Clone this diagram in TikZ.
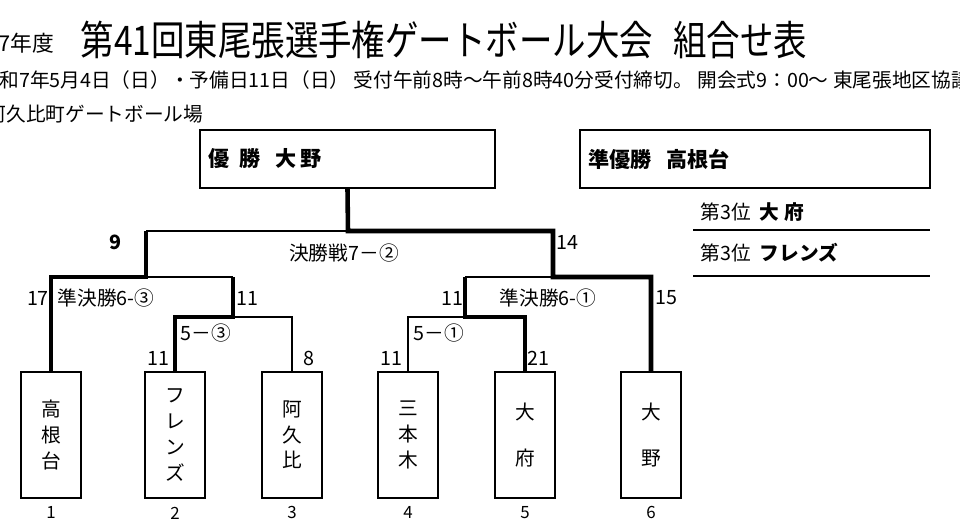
\documentclass[tikz,border=0pt]{standalone}
\usepackage{fontspec}
\setmainfont{Noto Sans CJK JP}
\tikzset{
  thin line/.style={line width=0.45pt},
  win line/.style={line width=1.3pt},
  team/.style={draw,line width=0.5pt,minimum width=0.6cm,minimum height=1.26cm,inner sep=0pt,align=center,font=\fontsize{5.6pt}{7.3pt}\selectfont},
  score/.style={font=\fontsize{5.6pt}{6pt}\selectfont,inner sep=0pt},
  info/.style={font=\fontsize{5.6pt}{6pt}\selectfont,inner sep=0pt,anchor=west},
}
\begin{document}
\begin{tikzpicture}[x=0.01cm,y=-0.01cm]
\useasboundingbox (0,0) rectangle (960,519);
\clip (0,0) rectangle (960,519);
% header
\node[info,font=\fontsize{6.2pt}{7pt}\selectfont] (year) at (-46,43) {令和7年度};
\node[inner sep=0pt,anchor=west,font=\fontsize{11.6pt}{13pt}\selectfont] (title) at (80,40) {\scalebox{0.82}[1]{第41回東尾張選手権ゲートボール大会\hspace{0.6em}組合せ表}};
\node[info] (date) at (-21,80) {令和7年5月4日（日）・予備日11日（日）\ 受付午前8時～午前8時40分受付締切。 開会式9：00～\ 東尾張地区協議会};
\node[info] (place) at (-14,114) {阿久比町ゲートボール場};
% results
\node[draw,line width=0.6pt,minimum width=2.95cm,minimum height=0.58cm,inner sep=0pt] (champ) at (347.5,159) {};
\node[info,font=\bfseries\fontsize{6pt}{6pt}\selectfont] at (208,159) {優\ \ 勝\ \ \ 大\ 野};
\node[draw,line width=0.6pt,minimum width=3.5cm,minimum height=0.58cm,inner sep=0pt] (second) at (755,159) {};
\node[info,font=\bfseries\fontsize{6pt}{6pt}\selectfont] at (588,159) {準優勝\ \ \ 高根台};
\node[info] (third1) at (700,212) {第3位\ \ \textbf{大 府}};
\draw[thin line] (693,230) -- (930,230);
\node[info] (third2) at (700,253) {第3位\ \ \textbf{フレンズ}};
\draw[thin line] (693,276) -- (930,276);
% teams
\node[team] (t1) at (51,435) {高\\根\\台};
\node[team] (t2) at (175,435) {フ\\レ\\ン\\ズ};
\node[team] (t3) at (292,435) {阿\\久\\比};
\node[team] (t4) at (408,435) {三\\本\\木};
\node[team] (t5) at (525,435) {大\\[6pt]府};
\node[team] (t6) at (651,435) {大\\[6pt]野};
\foreach \i in {1,...,6} \node[score,font=\fontsize{4.8pt}{5pt}\selectfont] at ([yshift=-0.14cm]t\i.south) {\i};
% bracket
\draw[thin line] (t3.north) -- (292,317) -- (233,317);
\draw[win line] (t2.north) -- (175,317) -- (233,317) -- (233,277);
\draw[thin line] (233,277) -- (146,277);
\draw[win line] (t1.north) -- (51,277) -- (146,277) -- (146,231);
\draw[thin line] (146,231) -- (348,231);
\draw[thin line] (t4.north) -- (408,317) -- (465,317);
\draw[win line] (t5.north) -- (525,317) -- (465,317) -- (465,277);
\draw[thin line] (465,277) -- (553,277);
\draw[win line] (t6.north) -- (651,277) -- (553,277) -- (553,231) -- (348,231) -- (champ.south);
% scores
\node[score,font=\bfseries\fontsize{5.6pt}{6pt}\selectfont] at (115,242) {9};
\node[score] at (567,242) {14};
\node[score] at (344,253) {決勝戦7－②};
\node[score] at (38,298) {17};
\node[score,anchor=west] at (57,298) {準決勝6-③};
\node[score] at (247,298) {11};
\node[score] at (452,298) {11};
\node[score] at (548,298) {準決勝6-①};
\node[score] at (666,298) {15};
\node[score] at (206,333) {5－③};
\node[score] at (439,333) {5－①};
\node[score] at (158,358) {11};
\node[score] at (309,358) {8};
\node[score] at (391,358) {11};
\node[score] at (538,358) {21};
\end{tikzpicture}
\end{document}
